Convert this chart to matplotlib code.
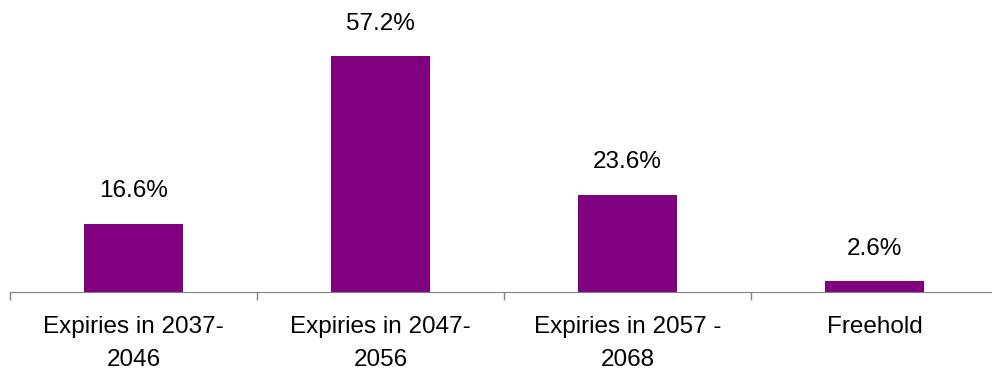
import matplotlib.pyplot as plt

# ------------------------
# Data
# ------------------------
categories = ["Expiries in 2037-\n2046", "Expiries in 2047-\n2056",
              "Expiries in 2057 -\n2068", "Freehold"]
shares = [16.6, 57.2, 23.6, 2.6]
value_labels = ["16.6%", "57.2%", "23.6%", "2.6%"]

# ------------------------
# Plot
# ------------------------
plt.rcParams['font.family'] = ['Liberation Sans', 'DejaVu Sans']

fig = plt.figure(figsize=(9.92, 3.72), dpi=100)
ax = fig.add_axes([10/992, 80/372, 988/992, 282/372])

x = list(range(len(categories)))
bars = ax.bar(x, shares, width=0.4, color='#800080')

for b, lab in zip(bars, value_labels):
    ax.annotate(lab, (b.get_x() + b.get_width() / 2, b.get_height()),
                xytext=(0, 23.5), textcoords='offset points',
                ha='center', va='center', fontsize=17.5)

ax.set_xlim(-0.5, 3.5)
ax.set_ylim(0, 68.4)
ax.set_xticks([-0.5, 0.5, 1.5, 2.5])
ax.set_xticklabels([])
ax.set_xticks(x, minor=True)
ax.set_xticklabels(categories, minor=True, fontsize=17.5, linespacing=1.65)
ax.tick_params(axis='x', which='major', length=6, color='#808080', width=1)
ax.tick_params(axis='x', which='minor', length=0, pad=17.5)
ax.set_yticks([])

for s in ['top', 'right', 'left']:
    ax.spines[s].set_visible(False)
ax.spines['bottom'].set_color('#808080')

fig.savefig('out.png', dpi=100)
